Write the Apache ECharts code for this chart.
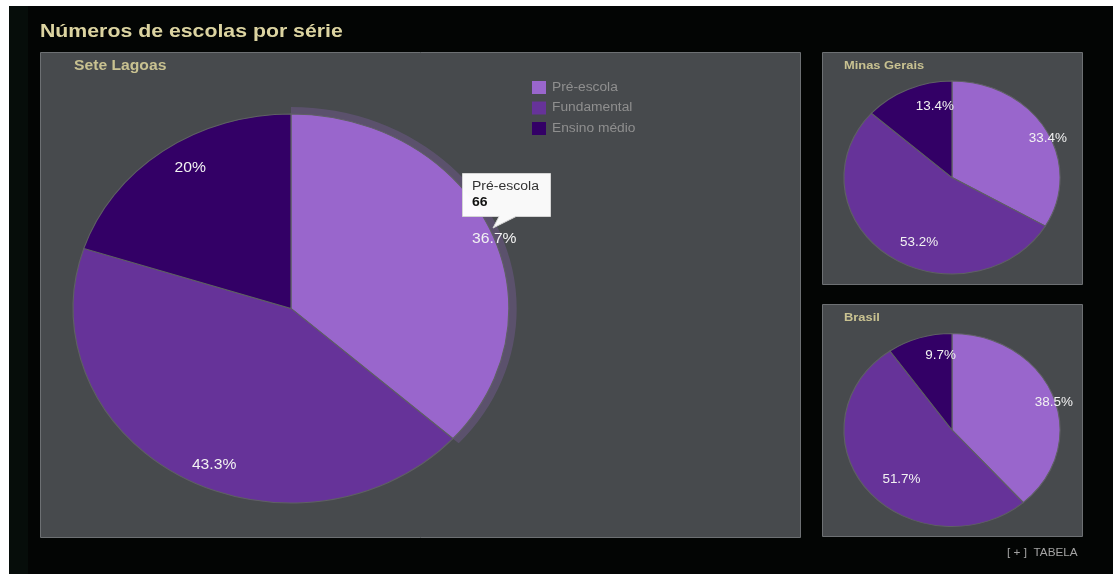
<!DOCTYPE html>
<html><head><meta charset="utf-8">
<script src="https://cdn.jsdelivr.net/npm/echarts@6/dist/echarts.min.js"></script>
<style>
html,body{margin:0;padding:0;background:#fff;width:1113px;height:574px;overflow:hidden}
#bg{position:absolute;left:9px;top:6px;width:1104px;height:568px;background:#030504}
#bgl{position:absolute;left:9px;top:6px;width:19px;height:568px;background:#060d0a}
#chart{position:absolute;left:0;top:0;width:1113px;height:574px}
</style></head><body>
<div id="bg"></div><div id="bgl"></div><div id="chart"></div>
<script>
// ---- data ----
const chartTitle = 'Números de escolas por série';
const categories = ['Pré-escola', 'Fundamental', 'Ensino médio'];
const regionNames = ['Sete Lagoas', 'Minas Gerais', 'Brasil'];
const seteLagoas = [66, 78, 36];
const minasGerais = [33.4, 53.2, 13.4];
const brasil = [38.54, 51.73, 9.73];
const tableLink = '[ + ]  TABELA';
const colors = ['#9966cc', '#663399', '#330066'];

// ---- layout ----
const SX = 1.12; // horizontal stretch of the original picture
const FONT = '"Liberation Sans", Arial, sans-serif';
const pies = [
  { name: regionNames[0], data: seteLagoas, cx: 291, cy: 308.5, r: 194.5, font: 14, hover: 0, dy: 3,
    panel: [40.5, 52.5, 760, 485], title: [74, 66], titleFont: 14 },
  { name: regionNames[1], data: minasGerais, cx: 952, cy: 177.5, r: 96.5, font: 12, hover: -1, dy: 1,
    panel: [822.5, 52.5, 260, 232], title: [844, 65.5], titleFont: 11.5 },
  { name: regionNames[2], data: brasil, cx: 952, cy: 430, r: 96.5, font: 12, hover: -1, dy: 1,
    panel: [822.5, 304.5, 260, 232], title: [844, 318], titleFont: 11.5 }
];

function makeSeries(p) {
  const total = p.data.reduce((a, b) => a + b, 0);
  const cum = []; let acc = 0;
  p.data.forEach(v => { cum.push(acc); acc += v; });
  return {
    type: 'custom', name: p.name, coordinateSystem: 'none', silent: true, z: 5,
    data: p.data.map((v, i) => ({ name: categories[i], value: v })),
    renderItem(params, api) {
      const i = params.dataIndex;
      const v = api.value(0);
      const a0 = -Math.PI / 2 + 2 * Math.PI * cum[i] / total;
      const a1 = a0 + 2 * Math.PI * v / total;
      const mid = (a0 + a1) / 2;
      const pct = Math.round(v / total * 1000) / 10;
      const lr = p.r - 17.5;
      const children = [];
      if (p.hover === i) {
        children.push({ type: 'sector', x: p.cx, y: p.cy, scaleX: SX,
          shape: { cx: 0, cy: 0, r0: p.r, r: p.r + 7, startAngle: a0, endAngle: a1, clockwise: true },
          style: { fill: colors[i], opacity: 0.25 } });
      }
      children.push({ type: 'sector', x: p.cx, y: p.cy, scaleX: SX,
        shape: { cx: 0, cy: 0, r0: 0, r: p.r, startAngle: a0, endAngle: a1, clockwise: true },
        style: { fill: colors[i], stroke: '#5f6064', lineWidth: 1 } });
      children.push({ type: 'text', z2: 20,
        x: p.cx + SX * lr * Math.cos(mid), y: p.cy + lr * Math.sin(mid) + p.dy, scaleX: SX,
        style: { text: pct + '%', fill: '#f2f2f2', font: p.font + 'px ' + FONT,
          textAlign: 'left', textVerticalAlign: 'middle', align: 'left', verticalAlign: 'middle' } });
      return { type: 'group', children };
    }
  };
}

function txt(x, y, text, size, weight, fill, z) {
  return { type: 'text', x, y, scaleX: SX, z: z || 1,
    style: { text, fill, font: weight + ' ' + size + 'px ' + FONT,
      textAlign: 'left', textVerticalAlign: 'middle', align: 'left', verticalAlign: 'middle' } };
}

const graphics = [];
graphics.push(txt(40, 31.5, chartTitle, 19, 'bold', '#dcd4a1', 1));
pies.forEach(p => {
  const [x, y, w, h] = p.panel;
  graphics.push({ type: 'rect', z: 0, shape: { x, y, width: w, height: h },
    style: { fill: '#474a4d', stroke: '#6d7073', lineWidth: 1 } });
  graphics.push(txt(p.title[0], p.title[1], p.name, p.titleFont, 'bold', '#c9c291', 1));
});
// legend
categories.forEach((c, i) => {
  graphics.push({ type: 'rect', z: 1, shape: { x: 532, y: 81 + 20.5 * i, width: 14, height: 13 },
    style: { fill: colors[i] } });
  graphics.push(txt(552, 87.5 + 20.5 * i, c, 12.3, 'normal', '#8f8f8f', 1));
});
// hovered tooltip
graphics.push({ type: 'polygon', z: 50,
  shape: { points: [[462.5, 173.5], [550.5, 173.5], [550.5, 216.5], [516, 216.5], [493, 228], [499, 216.5], [462.5, 216.5]] },
  style: { fill: 'rgba(255,255,255,0.97)', stroke: '#d4d4d4', lineWidth: 1 } });
graphics.push(txt(472, 186.5, categories[0], 12.5, 'normal', '#333333', 51));
graphics.push(txt(472, 203, String(seteLagoas[0]), 12.5, 'bold', '#111111', 51));
// table link
graphics.push(txt(1007, 553.5, tableLink, 10.5, 'normal', '#a3a3a3', 1));

const chart = echarts.init(document.getElementById('chart'), null, { renderer: 'canvas' });
chart.setOption({
  animation: false,
  backgroundColor: 'transparent',
  graphic: { elements: graphics },
  series: pies.map(makeSeries)
});
</script>
</body></html>
